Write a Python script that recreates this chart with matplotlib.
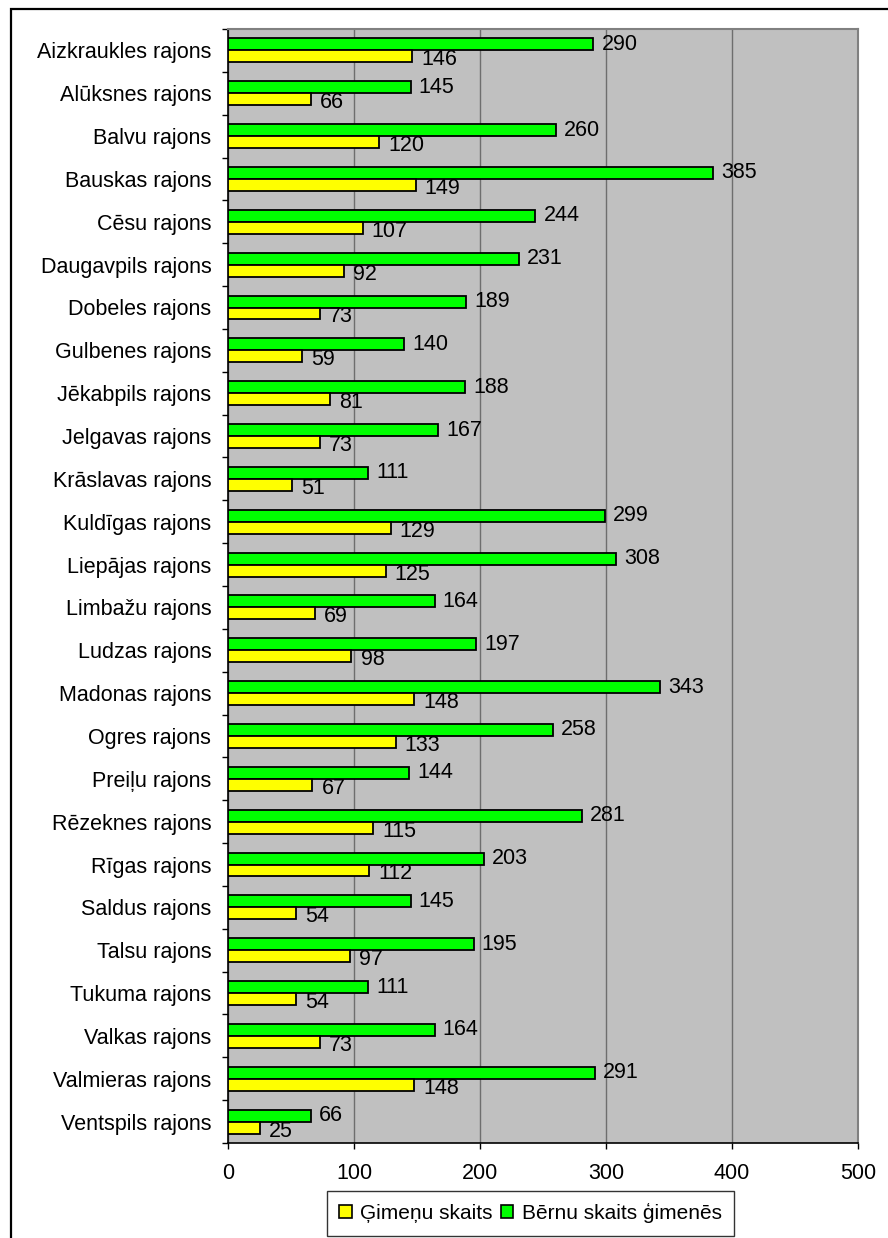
import matplotlib
matplotlib.use("Agg")
import matplotlib.pyplot as plt
from matplotlib.patches import Rectangle, Patch
import numpy as np

plt.rcParams['font.family'] = ['Liberation Sans', 'DejaVu Sans']

categories = ["Aizkraukles rajons", "Alūksnes rajons", "Balvu rajons", "Bauskas rajons",
              "Cēsu rajons", "Daugavpils rajons", "Dobeles rajons", "Gulbenes rajons",
              "Jēkabpils rajons", "Jelgavas rajons", "Krāslavas rajons", "Kuldīgas rajons",
              "Liepājas rajons", "Limbažu rajons", "Ludzas rajons", "Madonas rajons",
              "Ogres rajons", "Preiļu rajons", "Rēzeknes rajons", "Rīgas rajons",
              "Saldus rajons", "Talsu rajons", "Tukuma rajons", "Valkas rajons",
              "Valmieras rajons", "Ventspils rajons"]
berni = [290, 145, 260, 385, 244, 231, 189, 140, 188, 167, 111, 299, 308, 164, 197,
         343, 258, 144, 281, 203, 145, 195, 111, 164, 291, 66]
gimenes = [146, 66, 120, 149, 107, 92, 73, 59, 81, 73, 51, 129, 125, 69, 98,
           148, 133, 67, 115, 112, 54, 97, 54, 73, 148, 25]
series_names = ["Ģimeņu skaits", "Bērnu skaits ģimenēs"]
xticks = [0, 100, 200, 300, 400, 500]

W, H = 888, 1238
fig = plt.figure(figsize=(W / 100, H / 100), dpi=100)
fig.patch.set_facecolor('white')

L, R, T, B = 228, 858, 29, 1143
ax = fig.add_axes([L / W, 1 - B / H, (R - L) / W, (B - T) / H])
ax.set_facecolor('#C0C0C0')

y = np.arange(len(categories))
h = 0.28
green = '#00FF00'
yellow = '#FFFF00'
ax.barh(y - h / 2, berni, height=h, color=green, edgecolor='black', linewidth=1.3, zorder=3)
ax.barh(y + h / 2, gimenes, height=h, color=yellow, edgecolor='black', linewidth=1.3, zorder=3)

fs = 15.5
for i in range(len(categories)):
    ax.annotate(str(berni[i]), (berni[i], y[i] - h / 2), xytext=(5.8, 0),
                textcoords='offset points', ha='left', va='center', fontsize=fs, zorder=4)
    ax.annotate(str(gimenes[i]), (gimenes[i], y[i] + h / 2), xytext=(6.5, -2.5),
                textcoords='offset points', ha='left', va='center', fontsize=fs, zorder=4)

ax.set_xlim(0, 500)
ax.set_ylim(len(categories) - 0.5, -0.5)
ax.set_xticks(xticks)
ax.set_xticklabels([str(v) for v in xticks], fontsize=fs)
ax.set_yticks(y)
ax.set_yticklabels(categories, fontsize=fs)
ax.set_yticks(np.arange(len(categories) + 1) - 0.5, minor=True)
ax.tick_params(axis='y', which='major', length=0, pad=12)
ax.tick_params(axis='y', which='minor', length=4.3, width=1, color='black', direction='out')
ax.tick_params(axis='x', which='major', length=4.3, width=1, color='black', direction='out', pad=10)

ax.grid(axis='x', color='#6E6E6E', linewidth=1, zorder=1)
ax.set_axisbelow(True)
for s in ['top', 'right']:
    ax.spines[s].set_color('#808080')
    ax.spines[s].set_linewidth(1.5)
for s in ['left', 'bottom']:
    ax.spines[s].set_color('black')
    ax.spines[s].set_linewidth(1.2)

handles = [Patch(facecolor=yellow, edgecolor='black', linewidth=1.2),
           Patch(facecolor=green, edgecolor='black', linewidth=1.2)]
leg = fig.legend(handles, series_names, loc='center', ncol=2,
                 bbox_to_anchor=((326 + 735) / 2 / W, 1 - 1213 / H),
                 fontsize=15, frameon=True, fancybox=False, edgecolor='black',
                 handlelength=0.6, handleheight=0.6, handletextpad=0.4,
                 columnspacing=0.4, borderpad=0.6, borderaxespad=0)
leg.get_frame().set_linewidth(1.0)

border = Rectangle((10.5 / W, -0.1), 1.2, (H - 9.5) / H + 0.1, transform=fig.transFigure,
                   fill=False, edgecolor='black', linewidth=1.6)
fig.patches.append(border)

fig.savefig('out.png', dpi=100)
